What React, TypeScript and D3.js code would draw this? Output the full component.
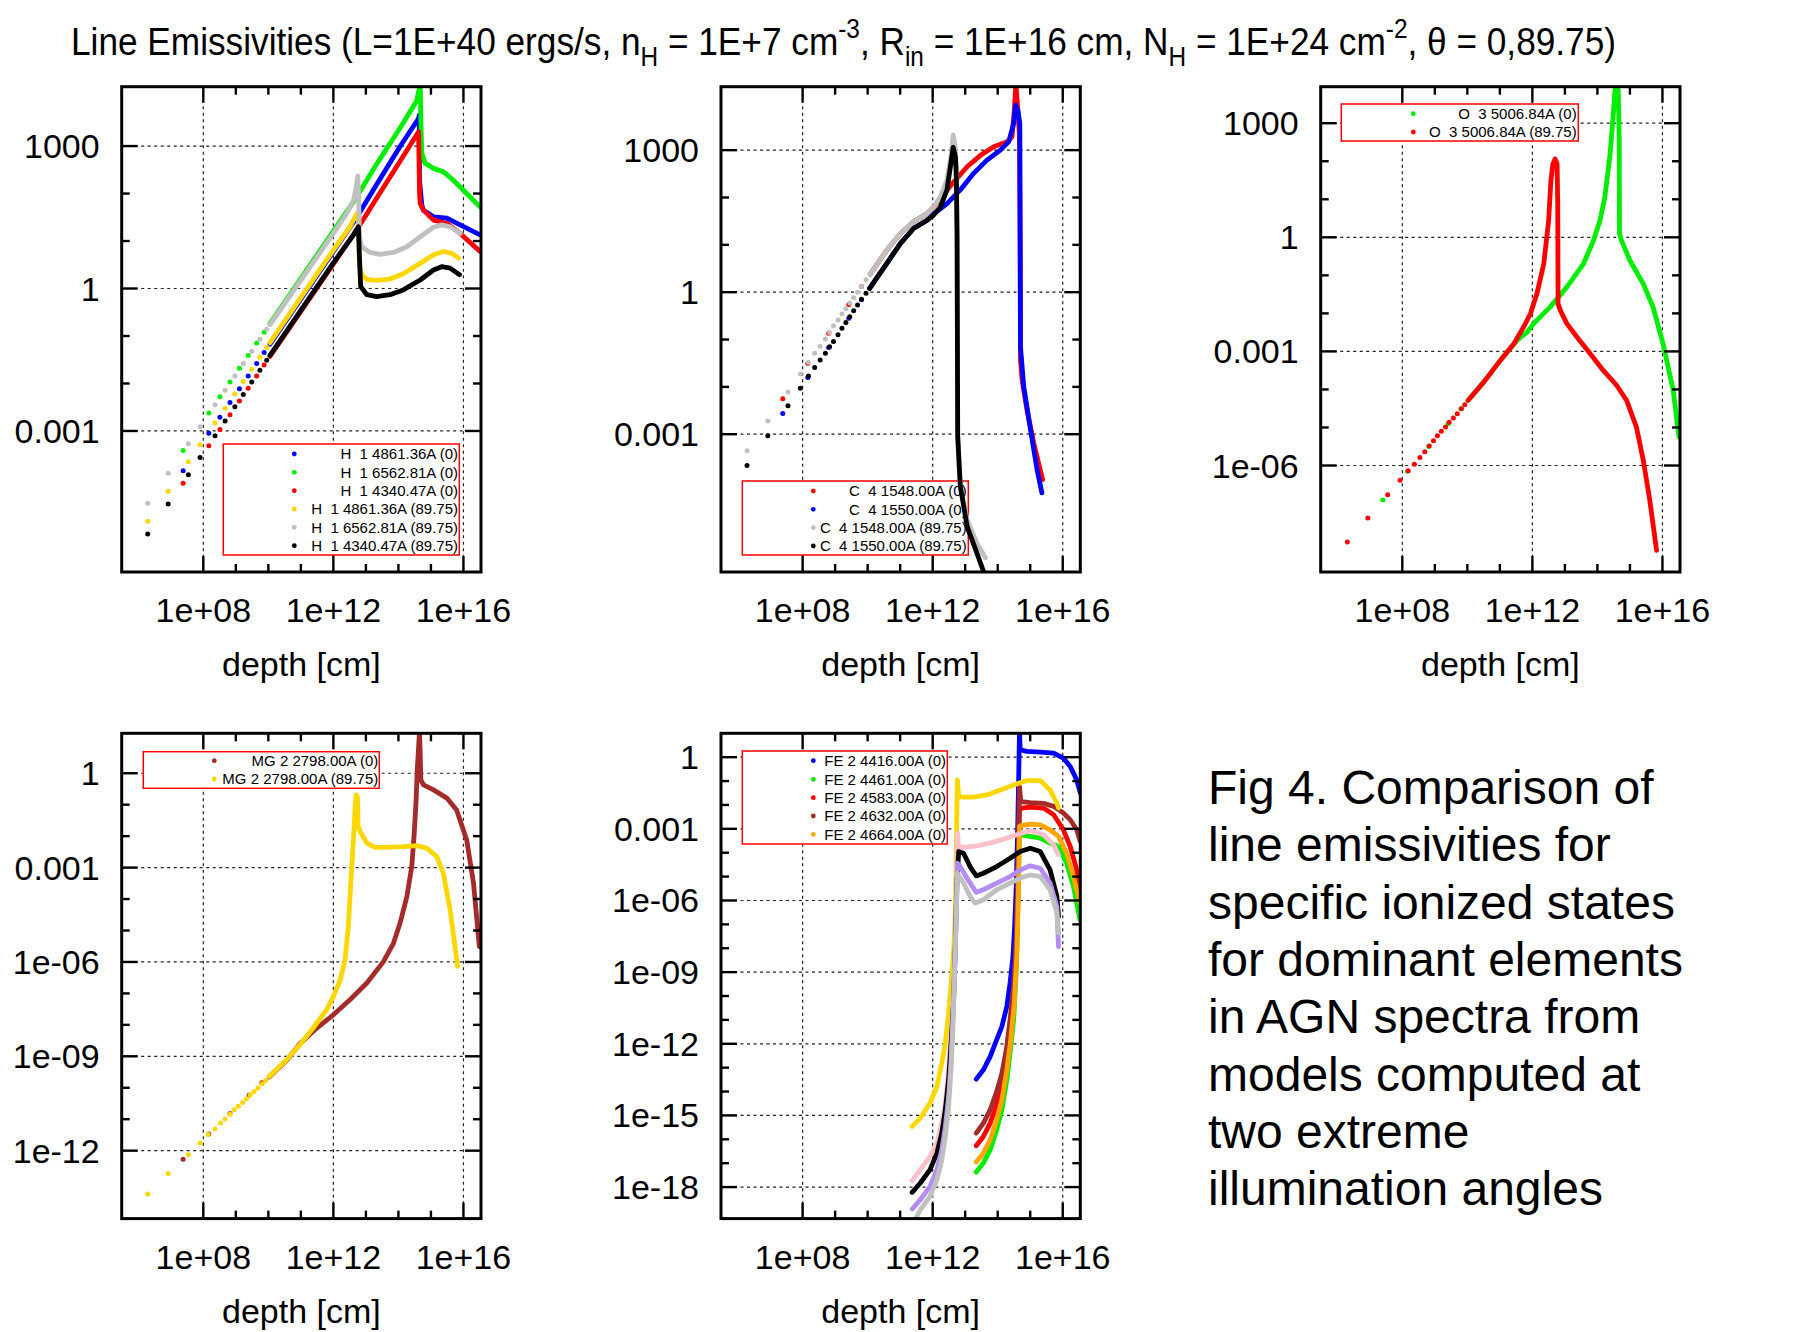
import React from "react";
import * as d3 from "d3";

type Pt = [number, number]; // [log10(depth / cm), log10(emissivity)]

// ---------------- shared axis data ----------------
const X_EXP: [number, number] = [5.49, 16.54];
const X_TICKS = [1e8, 1e12, 1e16];
const X_TICK_LABELS = ["1e+08", "1e+12", "1e+16"];
const X_LABEL = "depth [cm]";

const CAPTION_LINES = [
  "Fig 4. Comparison of",
  "line emissivities for",
  "specific ionized states",
  "for dominant elements",
  "in AGN spectra from",
  "models computed at",
  "two extreme",
  "illumination angles",
];

// ---------------- H I panel ----------------
const H_Y_EXP: [number, number] = [-5.97, 4.25];
const H_Y_TICKS = [1000, 1, 0.001];
const H_Y_LABELS = ["1000", "1", "0.001"];

const H4861_0_DOTS: Pt[] = [[7.38, -3.84], [8.17, -3.05], [8.51, -2.71], [8.82, -2.4], [9.11, -2.11], [9.38, -1.84], [9.64, -1.58], [9.87, -1.35]];
const H4861_0_LINE: Pt[] = [[10.05, -1.17], [12.0, 0.78], [12.72, 1.5], [13.33, 2.19], [14.05, 2.99], [14.62, 3.58], [14.64, 3.65], [14.65, 2.28], [14.72, 1.76], [14.77, 1.65], [15.08, 1.51], [15.49, 1.48], [15.9, 1.34], [16.51, 1.13]];
const H6563_0_DOTS: Pt[] = [[7.38, -3.41], [8.17, -2.62], [8.51, -2.28], [8.82, -1.97], [9.11, -1.68], [9.38, -1.41], [9.64, -1.15], [9.87, -0.92]];
const H6563_0_LINE: Pt[] = [[10.05, -0.74], [12.0, 1.21], [12.72, 1.93], [13.33, 2.62], [14.05, 3.38], [14.56, 3.95], [14.67, 4.3], [14.69, 3.55], [14.72, 2.85], [14.82, 2.64], [15.08, 2.53], [15.38, 2.46], [15.69, 2.28], [16.1, 2.0], [16.51, 1.72]];
const H4340_0_DOTS: Pt[] = [[7.38, -4.1], [8.17, -3.31], [8.51, -2.97], [8.82, -2.66], [9.11, -2.37], [9.38, -2.1], [9.64, -1.84], [9.87, -1.61]];
const H4340_0_LINE: Pt[] = [[10.05, -1.43], [12.0, 0.52], [12.77, 1.29], [13.33, 1.9], [14.05, 2.68], [14.62, 3.3], [14.65, 2.0], [14.67, 1.79], [14.77, 1.65], [15.08, 1.44], [15.49, 1.37], [15.9, 1.16], [16.51, 0.78]];
const H4861_90_DOTS: Pt[] = [[6.29, -4.9], [6.92, -4.27], [7.54, -3.65], [7.9, -3.29], [8.36, -2.83], [8.67, -2.52], [8.97, -2.22], [9.23, -1.96], [9.49, -1.7], [9.74, -1.45], [9.95, -1.24]];
const H4861_90_LINE: Pt[] = [[10.05, -1.14], [12.0, 0.81], [12.51, 1.3], [12.72, 1.58], [12.77, 1.51], [12.8, 0.53], [12.87, 0.29], [13.03, 0.19], [13.33, 0.17], [13.74, 0.2], [14.15, 0.31], [14.67, 0.53], [15.08, 0.71], [15.38, 0.78], [15.64, 0.74], [15.85, 0.64]];
const H6563_90_DOTS: Pt[] = [[6.29, -4.52], [6.92, -3.89], [7.54, -3.27], [7.9, -2.91], [8.36, -2.45], [8.67, -2.14], [8.97, -1.84], [9.23, -1.58], [9.49, -1.32], [9.74, -1.07], [9.95, -0.86]];
const H6563_90_LINE: Pt[] = [[10.05, -0.76], [12.0, 1.16], [12.41, 1.58], [12.62, 1.86], [12.72, 2.21], [12.75, 2.37], [12.78, 1.93], [12.8, 1.09], [12.87, 0.88], [13.13, 0.76], [13.44, 0.72], [13.85, 0.76], [14.26, 0.88], [14.67, 1.09], [15.08, 1.29], [15.33, 1.34], [15.59, 1.3], [15.9, 1.16]];
const H4340_90_DOTS: Pt[] = [[6.29, -5.17], [6.92, -4.54], [7.54, -3.92], [7.9, -3.56], [8.36, -3.1], [8.67, -2.79], [8.97, -2.49], [9.23, -2.23], [9.49, -1.97], [9.74, -1.72], [9.95, -1.51]];
const H4340_90_LINE: Pt[] = [[10.05, -1.41], [12.0, 0.54], [12.62, 1.13], [12.77, 1.3], [12.8, 0.67], [12.84, 0.04], [13.03, -0.13], [13.33, -0.17], [13.74, -0.13], [14.15, -0.03], [14.67, 0.18], [15.08, 0.39], [15.33, 0.46], [15.59, 0.43], [15.88, 0.29]];

// ---------------- C IV panel ----------------
const C_Y_EXP: [number, number] = [-5.91, 4.34];
const C_Y_TICKS = [1000, 1, 0.001];
const C_Y_LABELS = ["1000", "1", "0.001"];

const C1548_0_DOTS: Pt[] = [[7.39, -2.25], [8.16, -1.5], [8.8, -0.87], [9.42, -0.26], [9.81, 0.12]];
const C1548_0_LINE: Pt[] = [[10.08, 0.38], [10.59, 0.89], [11.01, 1.24], [11.42, 1.49], [11.83, 1.66], [12.03, 1.8], [12.24, 1.98], [12.65, 2.33], [13.06, 2.65], [13.47, 2.89], [13.88, 3.07], [14.29, 3.18], [14.44, 3.28], [14.51, 3.84], [14.56, 4.4], [14.62, 3.84], [14.67, 3.28], [14.69, 1.0], [14.7, -1.43], [14.75, -1.85], [14.9, -2.49], [15.11, -3.19], [15.38, -3.96]];
const C1550_0_DOTS: Pt[] = [[7.39, -2.56], [8.16, -1.8], [8.8, -1.17], [9.42, -0.55], [9.81, -0.16]];
const C1550_0_LINE: Pt[] = [[10.06, 0.08], [10.59, 0.61], [11.01, 1.03], [11.42, 1.35], [11.83, 1.52], [12.03, 1.65], [12.44, 1.87], [12.85, 2.16], [13.26, 2.51], [13.67, 2.79], [14.08, 3.0], [14.34, 3.18], [14.49, 3.56], [14.55, 3.95], [14.62, 3.84], [14.68, 3.56], [14.69, 1.17], [14.7, -1.15], [14.8, -1.99], [15.01, -2.91], [15.21, -3.75], [15.36, -4.24]];
const C1548_90_DOTS: Pt[] = [[6.29, -3.35], [6.93, -2.72], [7.55, -2.11], [7.93, -1.73], [8.18, -1.48], [8.37, -1.29], [8.54, -1.14], [8.7, -0.99], [8.83, -0.85], [8.95, -0.71], [9.09, -0.59], [9.21, -0.46], [9.33, -0.35], [9.45, -0.23], [9.57, -0.12], [9.69, 0.0], [9.81, 0.12], [9.95, 0.26]];
const C1548_90_LINE: Pt[] = [[10.08, 0.38], [10.59, 0.89], [11.01, 1.24], [11.42, 1.49], [11.83, 1.66], [12.03, 1.8], [12.24, 2.02], [12.44, 2.37], [12.56, 2.86], [12.63, 3.32], [12.68, 3.14], [12.73, 2.58], [12.75, 1.17], [12.76, -0.94], [12.77, -3.05], [12.85, -4.1], [13.06, -4.81], [13.36, -5.3], [13.62, -5.61]];
const C1550_90_DOTS: Pt[] = [[6.29, -3.66], [6.93, -3.03], [7.55, -2.4], [7.93, -2.03], [8.18, -1.77], [8.37, -1.59], [8.54, -1.43], [8.7, -1.29], [8.83, -1.15], [8.95, -1.04], [9.09, -0.9], [9.21, -0.76], [9.33, -0.64], [9.45, -0.52], [9.57, -0.39], [9.69, -0.27], [9.81, -0.15], [9.95, -0.02]];
const C1550_90_LINE: Pt[] = [[10.06, 0.08], [10.59, 0.61], [11.01, 1.03], [11.42, 1.35], [11.83, 1.52], [12.03, 1.63], [12.24, 1.8], [12.44, 2.16], [12.56, 2.72], [12.63, 3.06], [12.7, 2.86], [12.73, 2.37], [12.75, 1.17], [12.76, -0.94], [12.77, -3.05], [12.85, -4.1], [13.06, -4.95], [13.36, -5.51], [13.59, -5.95]];

// ---------------- O III panel ----------------
const O_Y_EXP: [number, number] = [-8.8, 3.96];
const O_Y_TICKS = [1000, 1, 0.001, 1e-6];
const O_Y_LABELS = ["1000", "1", "0.001", "1e-06"];

const O5007_0_DOTS: Pt[] = [[7.4, -6.91], [8.16, -6.15], [8.81, -5.5], [9.41, -4.9], [9.8, -4.51]];
const O5007_0_LINE: Pt[] = [[10.02, -4.29], [10.51, -3.8], [11.02, -3.23], [11.53, -2.71], [11.84, -2.49], [12.04, -2.27], [12.55, -1.83], [13.06, -1.31], [13.57, -0.7], [13.88, -0.08], [14.08, 0.44], [14.23, 1.06], [14.39, 2.19], [14.49, 3.25], [14.54, 3.86], [14.59, 4.0], [14.64, 3.86], [14.67, 2.63], [14.68, 0.09], [14.74, -0.08], [15.0, -0.61], [15.41, -1.22], [15.71, -1.83], [16.02, -2.8], [16.33, -4.02], [16.51, -5.25]];
const O5007_90_DOTS: Pt[] = [[6.31, -8.01], [6.94, -7.38], [7.55, -6.77], [7.93, -6.39], [8.18, -6.14], [8.37, -5.97], [8.54, -5.79], [8.69, -5.64], [8.83, -5.49], [8.96, -5.35], [9.08, -5.22], [9.2, -5.1], [9.33, -4.99], [9.44, -4.86], [9.57, -4.75], [9.69, -4.64], [9.82, -4.51], [9.92, -4.4]];
const O5007_90_LINE: Pt[] = [[10.02, -4.29], [10.51, -3.8], [11.02, -3.23], [11.43, -2.8], [11.73, -2.36], [11.94, -2.01], [12.14, -1.48], [12.35, -0.7], [12.5, 0.44], [12.57, 1.49], [12.63, 1.93], [12.7, 2.06], [12.76, 1.93], [12.78, 0.88], [12.79, -1.75], [12.86, -1.92], [13.06, -2.27], [13.37, -2.62], [13.78, -3.06], [14.18, -3.5], [14.59, -3.89], [14.9, -4.29], [15.2, -4.99], [15.41, -5.86], [15.61, -6.91], [15.82, -8.23]];

// ---------------- Mg II panel ----------------
const MG_Y_EXP: [number, number] = [-14.16, 1.27];
const MG_Y_TICKS = [1, 0.001, 1e-6, 1e-9, 1e-12];
const MG_Y_LABELS = ["1", "0.001", "1e-06", "1e-09", "1e-12"];

const MG2798_0_DOTS: Pt[] = [[7.38, -12.27], [8.17, -11.47], [8.82, -10.82], [9.41, -10.23], [9.8, -9.84]];
const MG2798_0_LINE: Pt[] = [[10.03, -9.66], [10.56, -9.13], [10.97, -8.6], [11.49, -8.1], [12.0, -7.68], [12.51, -7.2], [13.03, -6.67], [13.54, -5.99], [13.85, -5.4], [14.05, -4.77], [14.26, -3.92], [14.41, -2.97], [14.48, -2.01], [14.54, -0.95], [14.58, 0.11], [14.65, 1.35], [14.67, 0.64], [14.69, -0.21], [14.77, -0.37], [15.08, -0.53], [15.49, -0.79], [15.79, -1.17], [16.1, -2.12], [16.31, -3.5], [16.49, -5.51]];
const MG2798_90_DOTS: Pt[] = [[6.29, -13.38], [6.92, -12.73], [7.54, -12.13], [7.9, -11.76], [8.15, -11.49], [8.36, -11.31], [8.53, -11.12], [8.67, -10.99], [8.82, -10.84], [8.95, -10.7], [9.08, -10.59], [9.21, -10.47], [9.33, -10.35], [9.44, -10.22], [9.56, -10.12], [9.68, -10.01], [9.81, -9.87], [9.92, -9.77]];
const MG2798_90_LINE: Pt[] = [[10.03, -9.64], [10.56, -9.11], [10.97, -8.63], [11.38, -8.1], [11.79, -7.52], [12.0, -7.1], [12.21, -6.57], [12.36, -5.93], [12.46, -4.87], [12.53, -3.6], [12.59, -2.54], [12.64, -1.69], [12.67, -1.06], [12.7, -0.69], [12.74, -0.74], [12.76, -1.69], [12.82, -1.85], [13.03, -2.22], [13.28, -2.36], [13.74, -2.35], [14.15, -2.33], [14.56, -2.3], [14.87, -2.38], [15.18, -2.65], [15.38, -3.18], [15.59, -4.34], [15.74, -5.51], [15.82, -6.14]];

// ---------------- Fe II panel ----------------
const FE_Y_EXP: [number, number] = [-19.32, 1.0];
const FE_Y_TICKS = [1, 0.001, 1e-6, 1e-9, 1e-12, 1e-15, 1e-18];
const FE_Y_LABELS = ["1", "0.001", "1e-06", "1e-09", "1e-12", "1e-15", "1e-18"];

const FE4416_0_LINE: Pt[] = [[13.34, -13.48], [13.56, -13.09], [13.77, -12.53], [13.97, -11.83], [14.13, -11.27], [14.28, -10.44], [14.38, -9.46], [14.47, -8.34], [14.52, -7.09], [14.57, -5.41], [14.61, -3.32], [14.64, -1.23], [14.67, 1.05], [14.69, 0.31], [14.9, 0.24], [15.31, 0.21], [15.72, 0.17], [16.02, -0.04], [16.23, -0.39], [16.43, -0.95], [16.54, -1.51]];
const FE4461_0_LINE: Pt[] = [[13.34, -17.37], [13.56, -16.99], [13.77, -16.44], [13.97, -15.6], [14.13, -14.76], [14.28, -13.51], [14.38, -12.39], [14.49, -11.0], [14.57, -8.9], [14.61, -6.81], [14.64, -4.72], [14.67, -3.32], [14.71, -3.25], [15.0, -3.32], [15.31, -3.39], [15.61, -3.6], [15.87, -3.74], [16.12, -4.44], [16.33, -5.41], [16.53, -6.81]];
const FE4583_0_LINE: Pt[] = [[13.34, -16.27], [13.56, -15.88], [13.77, -15.32], [13.97, -14.55], [14.13, -13.79], [14.28, -12.67], [14.4, -11.41], [14.49, -10.02], [14.57, -8.2], [14.61, -6.11], [14.64, -4.02], [14.67, -2.2], [14.74, -2.13], [15.0, -2.09], [15.41, -2.13], [15.72, -2.41], [16.02, -3.04], [16.23, -3.74], [16.43, -4.72], [16.54, -5.97]];
const FE4632_0_LINE: Pt[] = [[13.34, -15.74], [13.56, -15.32], [13.77, -14.76], [13.97, -13.99], [14.13, -13.23], [14.28, -12.11], [14.38, -10.99], [14.49, -9.6], [14.57, -7.51], [14.61, -5.41], [14.64, -3.32], [14.67, -1.23], [14.71, -1.86], [15.0, -1.9], [15.41, -1.93], [15.72, -2.06], [16.02, -2.34], [16.23, -2.62], [16.43, -3.04], [16.54, -3.53]];
const FE4664_0_LINE: Pt[] = [[13.34, -16.95], [13.56, -16.58], [13.77, -16.02], [13.97, -15.18], [14.13, -14.34], [14.28, -13.09], [14.4, -11.83], [14.51, -10.3], [14.59, -8.2], [14.64, -5.41], [14.67, -2.9], [14.71, -2.87], [15.0, -2.8], [15.31, -2.83], [15.61, -3.04], [15.87, -3.32], [16.12, -4.02], [16.33, -5.0], [16.53, -6.11]];
const FE4416_90_LINE: Pt[] = [[11.37, -15.46], [11.62, -15.11], [11.92, -14.48], [12.13, -13.79], [12.28, -12.81], [12.39, -11.97], [12.49, -10.72], [12.56, -9.6], [12.64, -8.2], [12.69, -6.81], [12.72, -4.72], [12.74, -2.62], [12.76, -0.95], [12.8, -1.65], [12.95, -1.67], [13.26, -1.67], [13.67, -1.58], [14.08, -1.37], [14.49, -1.16], [14.9, -0.98], [15.31, -0.98], [15.61, -1.37], [15.82, -1.93], [15.87, -2.13]];
const FE4632_90_LINE: Pt[] = [[11.37, -17.73], [11.62, -17.27], [11.92, -16.72], [12.13, -16.16], [12.28, -15.32], [12.39, -14.48], [12.49, -13.09], [12.56, -11.69], [12.64, -9.88], [12.69, -8.2], [12.74, -5.41], [12.76, -3.18], [12.8, -3.74], [12.95, -3.78], [13.36, -3.71], [13.77, -3.6], [14.18, -3.43], [14.59, -3.25], [15.0, -3.07], [15.41, -3.25], [15.72, -3.67], [15.87, -4.09]];
const FE4583_90_LINE: Pt[] = [[11.37, -18.22], [11.62, -17.83], [11.92, -17.27], [12.13, -16.58], [12.28, -15.74], [12.39, -14.76], [12.49, -13.51], [12.56, -12.11], [12.64, -10.3], [12.69, -8.2], [12.74, -5.41], [12.8, -3.95], [12.95, -4.02], [13.15, -4.58], [13.34, -4.97], [13.56, -4.86], [13.97, -4.58], [14.38, -4.23], [14.69, -3.95], [15.0, -3.81], [15.31, -3.95], [15.61, -4.72], [15.82, -5.83], [15.87, -6.67]];
const FE4664_90_LINE: Pt[] = [[11.37, -18.92], [11.62, -18.53], [11.92, -17.97], [12.13, -17.27], [12.28, -16.44], [12.39, -15.46], [12.49, -14.2], [12.56, -12.81], [12.62, -11.0], [12.67, -8.9], [12.72, -6.81], [12.76, -4.44], [12.85, -4.58], [13.05, -5.06], [13.34, -5.66], [13.56, -5.55], [13.97, -5.27], [14.38, -5.0], [14.69, -4.72], [15.0, -4.55], [15.31, -4.65], [15.61, -5.27], [15.82, -6.25], [15.87, -7.93]];
const FE4461_90_LINE: Pt[] = [[11.41, -19.51], [11.62, -18.95], [11.92, -18.39], [12.13, -17.69], [12.28, -16.86], [12.39, -15.88], [12.49, -14.62], [12.56, -13.23], [12.62, -11.41], [12.67, -9.32], [12.72, -7.09], [12.76, -4.86], [12.95, -5.27], [13.15, -5.83], [13.31, -6.11], [13.56, -5.97], [13.97, -5.55], [14.38, -5.27], [14.69, -5.06], [15.0, -4.93], [15.31, -5.0], [15.61, -5.55], [15.82, -6.53], [15.87, -7.37]];

// ---------------- colours ----------------
const C_BLUE = "#0000ff";
const C_GREEN = "#00ee00";
const C_RED = "#ff0000";
const C_GOLD = "#ffd700";
const C_GRAY = "#c0c0c0";
const C_BLACK = "#000000";
const C_BROWN = "#a52a2a";
const C_ORANGE = "#ffa500";
const C_PINK = "#ffc0cb";
const C_LAVENDER = "#b48cf5";

interface Series {
  label: string;
  color: string;
  dots: Pt[];
  line: Pt[];
  inLegend: boolean;
}

interface LegendCfg {
  x0: number;
  y0: number;
  x1: number;
  y1: number;
  rowY: number[];
  dotX: number;
  textX: number;
}

interface PanelCfg {
  id: string;
  left: number;
  top: number;
  width: number;
  height: number;
  yExp: [number, number];
  yTicks: number[];
  yLabels: string[];
  series: Series[];
  legend: LegendCfg;
}

const FONT = "'Liberation Sans', Arial, Helvetica, sans-serif";
const PW = 359.3;
const PH = 485.3;

const PANELS: PanelCfg[] = [
  {
    id: "h1",
    left: 121.7,
    top: 86.7,
    width: PW,
    height: PH,
    yExp: H_Y_EXP,
    yTicks: H_Y_TICKS,
    yLabels: H_Y_LABELS,
    series: [
      { label: "H  1 4861.36A (0)", color: C_BLUE, dots: H4861_0_DOTS, line: H4861_0_LINE, inLegend: true },
      { label: "H  1 6562.81A (0)", color: C_GREEN, dots: H6563_0_DOTS, line: H6563_0_LINE, inLegend: true },
      { label: "H  1 4340.47A (0)", color: C_RED, dots: H4340_0_DOTS, line: H4340_0_LINE, inLegend: true },
      { label: "H  1 4861.36A (89.75)", color: C_GOLD, dots: H4861_90_DOTS, line: H4861_90_LINE, inLegend: true },
      { label: "H  1 6562.81A (89.75)", color: C_GRAY, dots: H6563_90_DOTS, line: H6563_90_LINE, inLegend: true },
      { label: "H  1 4340.47A (89.75)", color: C_BLACK, dots: H4340_90_DOTS, line: H4340_90_LINE, inLegend: true },
    ],
    legend: { x0: 223.3, y0: 444, x1: 459.3, y1: 555, rowY: [454, 472.3, 490.7, 509, 527.3, 545.7], dotX: 294.3, textX: 458 },
  },
  {
    id: "c4",
    left: 721,
    top: 86.7,
    width: PW,
    height: PH,
    yExp: C_Y_EXP,
    yTicks: C_Y_TICKS,
    yLabels: C_Y_LABELS,
    series: [
      { label: "C  4 1548.00A (0)", color: C_RED, dots: C1548_0_DOTS, line: C1548_0_LINE, inLegend: true },
      { label: "C  4 1550.00A (0)", color: C_BLUE, dots: C1550_0_DOTS, line: C1550_0_LINE, inLegend: true },
      { label: "C  4 1548.00A (89.75)", color: C_GRAY, dots: C1548_90_DOTS, line: C1548_90_LINE, inLegend: true },
      { label: "C  4 1550.00A (89.75)", color: C_BLACK, dots: C1550_90_DOTS, line: C1550_90_LINE, inLegend: true },
    ],
    legend: { x0: 742.3, y0: 481, x1: 968.3, y1: 555, rowY: [491, 509.3, 527.7, 546], dotX: 813.3, textX: 966.7 },
  },
  {
    id: "o3",
    left: 1320.7,
    top: 86.7,
    width: PW,
    height: PH,
    yExp: O_Y_EXP,
    yTicks: O_Y_TICKS,
    yLabels: O_Y_LABELS,
    series: [
      { label: "O  3 5006.84A (0)", color: C_GREEN, dots: O5007_0_DOTS, line: O5007_0_LINE, inLegend: true },
      { label: "O  3 5006.84A (89.75)", color: C_RED, dots: O5007_90_DOTS, line: O5007_90_LINE, inLegend: true },
    ],
    legend: { x0: 1341.3, y0: 104, x1: 1578.3, y1: 141, rowY: [113.7, 132], dotX: 1413.3, textX: 1576.7 },
  },
  {
    id: "mg2",
    left: 121.7,
    top: 733.3,
    width: PW,
    height: PH,
    yExp: MG_Y_EXP,
    yTicks: MG_Y_TICKS,
    yLabels: MG_Y_LABELS,
    series: [
      { label: "MG 2 2798.00A (0)", color: C_BROWN, dots: MG2798_0_DOTS, line: MG2798_0_LINE, inLegend: true },
      { label: "MG 2 2798.00A (89.75)", color: C_GOLD, dots: MG2798_90_DOTS, line: MG2798_90_LINE, inLegend: true },
    ],
    legend: { x0: 143.3, y0: 751.7, x1: 379.3, y1: 788.3, rowY: [760.7, 779], dotX: 214.3, textX: 378.3 },
  },
  {
    id: "fe2",
    left: 721,
    top: 733.3,
    width: PW,
    height: PH,
    yExp: FE_Y_EXP,
    yTicks: FE_Y_TICKS,
    yLabels: FE_Y_LABELS,
    series: [
      { label: "FE 2 4416.00A (0)", color: C_BLUE, dots: [], line: FE4416_0_LINE, inLegend: true },
      { label: "FE 2 4461.00A (0)", color: C_GREEN, dots: [], line: FE4461_0_LINE, inLegend: true },
      { label: "FE 2 4583.00A (0)", color: C_RED, dots: [], line: FE4583_0_LINE, inLegend: true },
      { label: "FE 2 4632.00A (0)", color: C_BROWN, dots: [], line: FE4632_0_LINE, inLegend: true },
      { label: "FE 2 4664.00A (0)", color: C_ORANGE, dots: [], line: FE4664_0_LINE, inLegend: true },
      { label: "FE 2 4416.00A (89.75)", color: C_GOLD, dots: [], line: FE4416_90_LINE, inLegend: false },
      { label: "FE 2 4632.00A (89.75)", color: C_PINK, dots: [], line: FE4632_90_LINE, inLegend: false },
      { label: "FE 2 4583.00A (89.75)", color: C_BLACK, dots: [], line: FE4583_90_LINE, inLegend: false },
      { label: "FE 2 4664.00A (89.75)", color: C_LAVENDER, dots: [], line: FE4664_90_LINE, inLegend: false },
      { label: "FE 2 4461.00A (89.75)", color: C_GRAY, dots: [], line: FE4461_90_LINE, inLegend: false },
    ],
    legend: { x0: 742.3, y0: 751, x1: 947.3, y1: 844, rowY: [760.7, 779.3, 797.7, 816, 834.3], dotX: 813.3, textX: 946 },
  },
];

const MAJOR_TICK = 16;
const MINOR_TICK = 8;

function Panel({ cfg }: { cfg: PanelCfg }) {
  const { left, top, width, height } = cfg;
  const right = left + width;
  const bottom = top + height;
  const xs = d3.scaleLog().domain([10 ** X_EXP[0], 10 ** X_EXP[1]]).range([left, right]);
  const ys = d3.scaleLog().domain([10 ** cfg.yExp[0], 10 ** cfg.yExp[1]]).range([bottom, top]);
  const line = d3
    .line<Pt>()
    .x((d) => xs(10 ** d[0]))
    .y((d) => ys(10 ** d[1]));

  const xMajorExp = X_TICKS.map((v) => Math.round(Math.log10(v)));
  const xMinor: number[] = [];
  for (let e = Math.min(...xMajorExp); e <= Math.max(...xMajorExp); e++) {
    if (!xMajorExp.includes(e)) xMinor.push(10 ** e);
  }
  const yMajorExp = cfg.yTicks.map((v) => Math.round(Math.log10(v)));
  const yMinor: number[] = [];
  for (let e = Math.min(...yMajorExp); e <= Math.max(...yMajorExp); e++) {
    if (!yMajorExp.includes(e)) yMinor.push(10 ** e);
  }
  const clipId = `clip-${cfg.id}`;
  const lg = cfg.legend;

  return (
    <g>
      <defs>
        <clipPath id={clipId}>
          <rect x={left} y={top} width={width} height={height} />
        </clipPath>
      </defs>
      {/* grid */}
      <g stroke="#222" strokeWidth={1.2} strokeDasharray="3,3.5">
        {X_TICKS.map((v) => (
          <line key={`gx${v}`} x1={xs(v)} x2={xs(v)} y1={top} y2={bottom} />
        ))}
        {cfg.yTicks.map((v) => (
          <line key={`gy${v}`} x1={left} x2={right} y1={ys(v)} y2={ys(v)} />
        ))}
      </g>
      {/* legend box */}
      <rect x={lg.x0} y={lg.y0} width={lg.x1 - lg.x0} height={lg.y1 - lg.y0} fill="#fff" stroke="#ff0000" strokeWidth={1.5} />
      {/* data */}
      <g clipPath={`url(#${clipId})`}>
        {cfg.series.map((s, i) => (
          <g key={i}>
            {s.line.length > 0 && (
              <path d={line(s.line) || ""} fill="none" stroke={s.color} strokeWidth={4.8} strokeLinecap="round" strokeLinejoin="round" />
            )}
            {s.dots.map((d, j) => (
              <circle key={j} cx={xs(10 ** d[0])} cy={ys(10 ** d[1])} r={2.5} fill={s.color} />
            ))}
          </g>
        ))}
      </g>
      {/* legend entries */}
      {cfg.series
        .filter((s) => s.inLegend)
        .map((s, i) => (
          <g key={`lg${i}`}>
            <circle cx={lg.dotX} cy={lg.rowY[i]} r={2.4} fill={s.color} />
            <text
              x={lg.textX}
              y={lg.rowY[i] + 5.4}
              textAnchor="end"
              fontSize={15}
              fontFamily={FONT}
              style={{ whiteSpace: "pre" }}
            >
              {s.label}
            </text>
          </g>
        ))}
      {/* ticks */}
      <g stroke="#000" strokeWidth={2.4}>
        {X_TICKS.map((v) => (
          <g key={`tx${v}`}>
            <line x1={xs(v)} x2={xs(v)} y1={bottom} y2={bottom - MAJOR_TICK} />
            <line x1={xs(v)} x2={xs(v)} y1={top} y2={top + MAJOR_TICK} />
          </g>
        ))}
        {xMinor.map((v) => (
          <g key={`mx${v}`}>
            <line x1={xs(v)} x2={xs(v)} y1={bottom} y2={bottom - MINOR_TICK} />
            <line x1={xs(v)} x2={xs(v)} y1={top} y2={top + MINOR_TICK} />
          </g>
        ))}
        {cfg.yTicks.map((v) => (
          <g key={`ty${v}`}>
            <line x1={left} x2={left + MAJOR_TICK} y1={ys(v)} y2={ys(v)} />
            <line x1={right} x2={right - MAJOR_TICK} y1={ys(v)} y2={ys(v)} />
          </g>
        ))}
        {yMinor.map((v) => (
          <g key={`my${v}`}>
            <line x1={left} x2={left + MINOR_TICK} y1={ys(v)} y2={ys(v)} />
            <line x1={right} x2={right - MINOR_TICK} y1={ys(v)} y2={ys(v)} />
          </g>
        ))}
      </g>
      {/* border */}
      <rect x={left} y={top} width={width} height={height} fill="none" stroke="#000" strokeWidth={3} />
      {/* tick labels */}
      {cfg.yTicks.map((v, i) => (
        <text key={`ly${v}`} x={left - 22} y={ys(v) + 12} textAnchor="end" fontSize={34} fontFamily={FONT}>
          {cfg.yLabels[i]}
        </text>
      ))}
      {X_TICKS.map((v, i) => (
        <text key={`lx${v}`} x={xs(v)} y={bottom + 50} textAnchor="middle" fontSize={34} fontFamily={FONT}>
          {X_TICK_LABELS[i]}
        </text>
      ))}
      <text x={(left + right) / 2} y={bottom + 104} textAnchor="middle" fontSize={34} fontFamily={FONT}>
        {X_LABEL}
      </text>
    </g>
  );
}

export default function App() {
  return (
    <svg
      width={1797}
      height={1332}
      viewBox="0 0 1797 1332"
      style={{ display: "block", position: "absolute", left: 0, top: 0, background: "#fff" }}
    >
      <rect x={0} y={0} width={1797} height={1332} fill="#fff" />
      <text x={71} y={55} fontSize={39} fontFamily={FONT} textLength={1545} lengthAdjust="spacingAndGlyphs">
        Line Emissivities (L=1E+40 ergs/s, n
        <tspan dy={11} fontSize={27}>H</tspan>
        <tspan dy={-11}> = 1E+7 cm</tspan>
        <tspan dy={-17} fontSize={27}>-3</tspan>
        <tspan dy={17}>, R</tspan>
        <tspan dy={11} fontSize={27}>in</tspan>
        <tspan dy={-11}> = 1E+16 cm, N</tspan>
        <tspan dy={11} fontSize={27}>H</tspan>
        <tspan dy={-11}> = 1E+24 cm</tspan>
        <tspan dy={-17} fontSize={27}>-2</tspan>
        <tspan dy={17}>, θ = 0,89.75)</tspan>
      </text>
      {PANELS.map((p) => (
        <Panel key={p.id} cfg={p} />
      ))}
      {CAPTION_LINES.map((t, i) => (
        <text key={i} x={1208} y={804 + i * 57.3} fontSize={48} fontFamily={FONT}>
          {t}
        </text>
      ))}
    </svg>
  );
}
